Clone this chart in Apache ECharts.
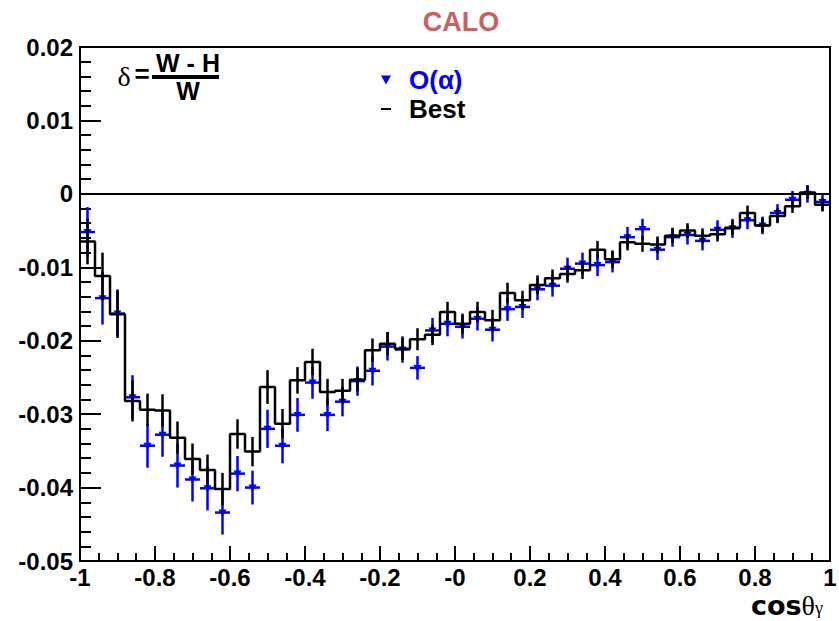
<!DOCTYPE html>
<html>
<head>
<meta charset="utf-8">
<script src="https://cdn.jsdelivr.net/npm/echarts@6/dist/echarts.min.js"></script>
<style>
html,body{margin:0;padding:0;background:#fff;}
#chart{width:839px;height:621px;}
</style>
</head>
<body>
<div id="chart"></div>
<script>
// ---- data (50 bins of cos(theta_gamma) from -1 to 1) ----
var binLow = -1;
var binWidth = 0.04;
var bestValues = [-0.0065, -0.0112, -0.0164, -0.0282, -0.0294, -0.0295, -0.0332, -0.0361, -0.0376, -0.0402,
  -0.0327, -0.0351, -0.0263, -0.0313, -0.0254, -0.0229, -0.0270, -0.0268, -0.0253, -0.0213,
  -0.0204, -0.0211, -0.0198, -0.0192, -0.0161, -0.0177, -0.0161, -0.0172, -0.0135, -0.0145,
  -0.0124, -0.0115, -0.0109, -0.0104, -0.0076, -0.0089, -0.0066, -0.0068, -0.0069, -0.0057,
  -0.0050, -0.0057, -0.0055, -0.0046, -0.0026, -0.0043, -0.0030, -0.0017, 0.0002, -0.0015];
var bestErrors = [0.0031, 0.0032, 0.0032, 0.0028, 0.0022, 0.0022, 0.0022, 0.0021, 0.0021, 0.0022,
  0.0020, 0.0020, 0.0023, 0.0020, 0.0018, 0.0018, 0.0018, 0.0016, 0.0016, 0.0016,
  0.0016, 0.0015, 0.0015, 0.0014, 0.0014, 0.0014, 0.0014, 0.0014, 0.0014, 0.0013,
  0.0013, 0.0012, 0.0012, 0.0012, 0.0012, 0.0012, 0.0011, 0.0011, 0.0011, 0.0010,
  0.0010, 0.0010, 0.0010, 0.0010, 0.0010, 0.0010, 0.0010, 0.0009, 0.0009, 0.0009];
var oaValues = [-0.0052, -0.0142, -0.0163, -0.0277, -0.0343, -0.0328, -0.0370, -0.0389, -0.0401, -0.0434,
  -0.0381, -0.0400, -0.0320, -0.0343, -0.0301, -0.0257, -0.0301, -0.0283, -0.0255, -0.0241,
  -0.0208, -0.0212, -0.0237, -0.0186, -0.0177, -0.0181, -0.0170, -0.0185, -0.0157, -0.0154,
  -0.0130, -0.0125, -0.0102, -0.0095, -0.0097, -0.0093, -0.0059, -0.0048, -0.0076, -0.0059,
  -0.0056, -0.0064, -0.0049, -0.0047, -0.0036, -0.0043, -0.0026, -0.0008, 0.0000, -0.0011];
var oaErrors = [0.0034, 0.0036, 0.0033, 0.0030, 0.0030, 0.0030, 0.0030, 0.0030, 0.0030, 0.0030,
  0.0024, 0.0023, 0.0026, 0.0024, 0.0023, 0.0022, 0.0022, 0.0020, 0.0020, 0.0020,
  0.0019, 0.0018, 0.0016, 0.0017, 0.0017, 0.0016, 0.0016, 0.0016, 0.0016, 0.0015,
  0.0015, 0.0015, 0.0015, 0.0015, 0.0015, 0.0014, 0.0014, 0.0014, 0.0014, 0.0013,
  0.0013, 0.0013, 0.0013, 0.0013, 0.0012, 0.0012, 0.0012, 0.0012, 0.0012, 0.0012];
var xTickValues = [-1, -0.8, -0.6, -0.4, -0.2, 0, 0.2, 0.4, 0.6, 0.8, 1];
var xTickLabels = ['-1', '-0.8', '-0.6', '-0.4', '-0.2', '-0', '0.2', '0.4', '0.6', '0.8', '1'];
var yTickValues = [-0.05, -0.04, -0.03, -0.02, -0.01, 0, 0.01, 0.02];
var yTickLabels = ['-0.05', '-0.04', '-0.03', '-0.02', '-0.01', '0', '0.01', '0.02'];

// ---- build series data ----
var FONT = "'Liberation Sans', Arial, Helvetica, sans-serif";
var SERIF = "'Liberation Serif', 'Times New Roman', serif";
var stepData = [];
var bestErrData = [];
var oaData = [];
for (var i = 0; i < bestValues.length; i++) {
  var lo = binLow + i * binWidth;
  stepData.push([lo, bestValues[i]]);
  bestErrData.push([lo + binWidth / 2, bestValues[i], bestErrors[i]]);
  oaData.push([lo + binWidth / 2, oaValues[i], oaErrors[i]]);
}
stepData.push([binLow + bestValues.length * binWidth, bestValues[bestValues.length - 1]]);

function nearestLabel(v, vals, labels) {
  var best = 0, d = Infinity;
  for (var k = 0; k < vals.length; k++) {
    var dd = Math.abs(vals[k] - v);
    if (dd < d) { d = dd; best = k; }
  }
  return d < 1e-6 ? labels[best] : '';
}

var chart = echarts.init(document.getElementById('chart'), null, {renderer: 'svg'});

var option = {
  backgroundColor: '#fff',
  animation: false,
  title: {
    text: 'CALO',
    left: 456,
    textAlign: 'center',
    top: 3,
    textStyle: {color: '#cc6060', fontSize: 27, fontWeight: 'bold', fontFamily: FONT}
  },
  legend: {
    orient: 'vertical',
    left: 376,
    top: 62,
    itemWidth: 10,
    itemHeight: 10,
    itemGap: 3,
    selectedMode: false,
    textStyle: {fontSize: 26, fontWeight: 'bold', fontFamily: FONT, padding: [0, 0, 0, 13]},
    data: [
      {name: 'O(α)', icon: 'path://M0,0 L10,0 L5,9 Z', itemStyle: {color: '#0000ff'}, textStyle: {color: '#0000ff'}},
      {name: 'Best', icon: 'path://M0,4 L10,4 L10,6 L0,6 Z', itemStyle: {color: '#000'}, textStyle: {color: '#000'}}
    ]
  },
  grid: {
    left: 80, right: 9, top: 47, bottom: 60,
    containLabel: false,
    outerBoundsMode: 'none',
    show: true, borderColor: '#000', borderWidth: 2, backgroundColor: '#fff'
  },
  xAxis: {
    type: 'value',
    min: -1, max: 1, interval: 0.2,
    axisLine: {show: true, onZero: false, lineStyle: {color: '#000', width: 2}},
    axisTick: {show: true, inside: true, length: 15, lineStyle: {color: '#000', width: 2}},
    minorTick: {show: true, splitNumber: 4, length: 8, lineStyle: {color: '#000', width: 2}},
    splitLine: {show: false},
    axisLabel: {
      margin: 3, lineHeight: 26, color: '#000', fontSize: 24, fontWeight: 'bold', fontFamily: FONT,
      formatter: function (v) { return nearestLabel(v, xTickValues, xTickLabels); }
    }
  },
  yAxis: {
    type: 'value',
    min: -0.05, max: 0.02, interval: 0.01,
    axisLine: {show: true, onZero: false, lineStyle: {color: '#000', width: 2}},
    axisTick: {show: true, inside: true, length: 21, lineStyle: {color: '#000', width: 2}},
    minorTick: {show: true, splitNumber: 5, length: 11, lineStyle: {color: '#000', width: 2}},
    splitLine: {show: false},
    axisLabel: {
      margin: 7, color: '#000', fontSize: 24, fontWeight: 'bold', fontFamily: FONT,
      formatter: function (v) { return nearestLabel(v, yTickValues, yTickLabels); }
    }
  },
  graphic: [
    {type: 'text', style: {text: 'δ', x: 124, y: 76, align: 'center', verticalAlign: 'middle', lineHeight: 24, fontSize: 28, fontFamily: SERIF, fill: '#000'}},
    {type: 'text', style: {text: '=', x: 142, y: 74, align: 'center', verticalAlign: 'middle', lineHeight: 20, fontSize: 26, fontWeight: 'bold', fontFamily: FONT, fill: '#000'}},
    {type: 'text', style: {text: 'W - H\nW', x: 188, y: 77, align: 'center', verticalAlign: 'middle', lineHeight: 28, fontSize: 25, fontWeight: 'bold', fontFamily: FONT, fill: '#000'}},
    {type: 'rect', shape: {x: 152, y: 75, width: 67, height: 4}, style: {fill: '#000'}},
    {type: 'text', style: {
      text: '{a|cos}{b|θ}{c|γ}', x: 823, y: 605, align: 'right', verticalAlign: 'middle',
      rich: {
        a: {fontSize: 27, lineHeight: 24, fontWeight: 'bold', fontFamily: "'DejaVu Sans', 'Liberation Sans', sans-serif", fill: '#000'},
        b: {fontSize: 28, lineHeight: 24, fontFamily: SERIF, fill: '#000'},
        c: {fontSize: 18, lineHeight: 12, verticalAlign: 'bottom', fontFamily: SERIF, fill: '#000'}
      }
    }}
  ],
  series: [
    {
      name: 'O(α)',
      type: 'custom',
      itemStyle: {color: '#0000ff'},
      data: oaData,
      z: 3,
      renderItem: function (params, api) {
        var x = api.value(0), y = api.value(1), e = api.value(2);
        var c = api.coord([x, y]);
        var t = api.coord([x, y + e]);
        var b = api.coord([x, y - e]);
        var l = api.coord([x - binWidth / 2, y]);
        var r = api.coord([x + binWidth / 2, y]);
        var st = {stroke: '#0000ff', lineWidth: 2.5};
        return {
          type: 'group',
          children: [
            {type: 'line', shape: {x1: t[0], y1: t[1], x2: b[0], y2: b[1]}, style: st},
            {type: 'line', shape: {x1: l[0], y1: l[1], x2: r[0], y2: r[1]}, style: st},
            {type: 'polygon', shape: {points: [[c[0] - 4, c[1] - 3], [c[0] + 4, c[1] - 3], [c[0], c[1] + 4]]}, style: {fill: '#0000ff'}}
          ]
        };
      }
    },
    {
      name: 'Best',
      type: 'line',
      step: 'end',
      data: stepData,
      showSymbol: false,
      symbol: 'none',
      color: '#000',
      lineStyle: {color: '#000', width: 2.5},
      z: 4,
      markLine: {
        silent: true,
        symbol: 'none',
        label: {show: false},
        lineStyle: {color: '#000', width: 2, type: 'solid'},
        data: [{yAxis: 0}]
      }
    },
    {
      name: 'BestErr',
      type: 'custom',
      data: bestErrData,
      z: 5,
      renderItem: function (params, api) {
        var x = api.value(0), y = api.value(1), e = api.value(2);
        var t = api.coord([x, y + e]);
        var b = api.coord([x, y - e]);
        return {type: 'line', shape: {x1: t[0], y1: t[1], x2: b[0], y2: b[1]}, style: {stroke: '#000', lineWidth: 2.5}};
      }
    }
  ]
};
chart.setOption(option);
</script>
</body>
</html>
